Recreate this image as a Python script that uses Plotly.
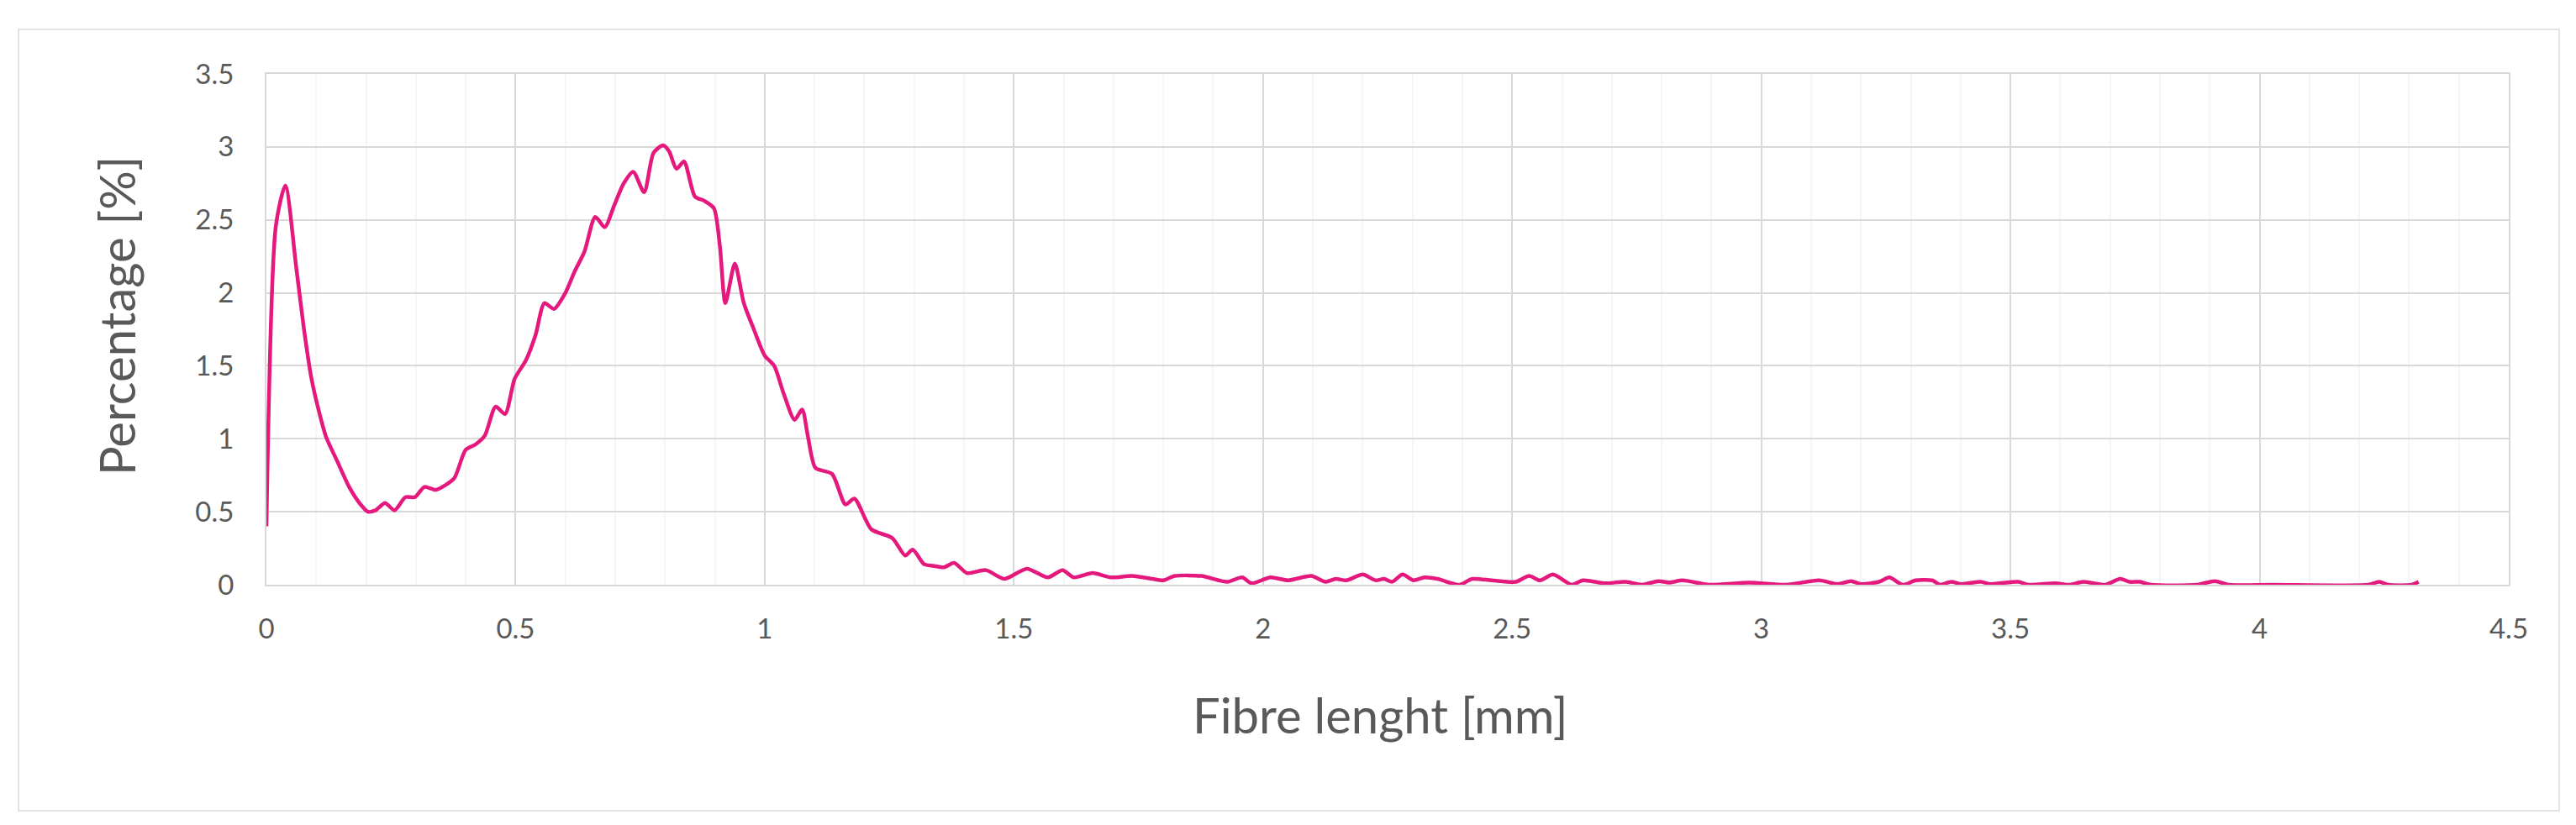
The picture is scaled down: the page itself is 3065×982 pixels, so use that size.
import plotly.graph_objects as go

fibre_length_mm = [
    0, 0.019, 0.038, 0.06, 0.075, 0.09, 0.106, 0.12, 0.143, 0.166, 0.189, 0.204, 0.219, 0.238,
    0.257, 0.279, 0.298, 0.317, 0.34, 0.358, 0.377, 0.4, 0.419, 0.438, 0.46, 0.479, 0.498,
    0.521, 0.54, 0.558, 0.577, 0.6, 0.619, 0.638, 0.66, 0.679, 0.698, 0.717, 0.736, 0.758,
    0.777, 0.796, 0.808, 0.823, 0.838, 0.86, 0.879, 0.898, 0.91, 0.921, 0.94, 0.958, 0.977,
    1.0, 1.019, 1.038, 1.06, 1.075, 1.087, 1.102, 1.135, 1.162, 1.18, 1.214, 1.256, 1.282,
    1.297, 1.32, 1.338, 1.36, 1.38, 1.406, 1.444, 1.481, 1.526, 1.568, 1.598, 1.62, 1.658,
    1.695, 1.737, 1.778, 1.8, 1.823, 1.876, 1.928, 1.958, 1.977, 2.015, 2.05, 2.097, 2.125,
    2.146, 2.167, 2.2, 2.226, 2.243, 2.259, 2.28, 2.302, 2.324, 2.35, 2.394, 2.42, 2.459,
    2.507, 2.534, 2.556, 2.582, 2.62, 2.642, 2.685, 2.728, 2.76, 2.793, 2.815, 2.842, 2.895,
    2.976, 3.05, 3.116, 3.153, 3.18, 3.2, 3.236, 3.257, 3.284, 3.31, 3.343, 3.359, 3.381,
    3.402, 3.44, 3.46, 3.515, 3.537, 3.59, 3.617, 3.647, 3.69, 3.72, 3.739, 3.76, 3.782,
    3.875, 3.91, 3.939, 4.025, 4.218, 4.24, 4.258, 4.305, 4.319,
]
percentage = [
    0.40, 2.46, 2.735, 2.17, 1.76, 1.42, 1.18, 1.01, 0.84, 0.67, 0.55, 0.50, 0.51, 0.56,
    0.51, 0.60, 0.60, 0.67, 0.65, 0.68, 0.73, 0.925, 0.96, 1.02, 1.22, 1.17, 1.41,
    1.54, 1.71, 1.93, 1.89, 2.00, 2.15, 2.28, 2.52, 2.45, 2.60, 2.75, 2.83, 2.69,
    2.96, 3.01, 2.97, 2.85, 2.90, 2.66, 2.63, 2.58, 2.32, 1.93, 2.20, 1.93, 1.76,
    1.57, 1.50, 1.31, 1.13, 1.20, 1.01, 0.80, 0.76, 0.55, 0.59, 0.38, 0.32, 0.20,
    0.24, 0.14, 0.13, 0.12, 0.15, 0.08, 0.10, 0.04, 0.11, 0.05, 0.10, 0.05, 0.08,
    0.05, 0.06, 0.04, 0.03, 0.06, 0.06, 0.02, 0.05, 0.01, 0.05, 0.03, 0.06, 0.02,
    0.04, 0.03, 0.07, 0.03, 0.04, 0.02, 0.07, 0.03, 0.05, 0.04, 0.00, 0.04, 0.03,
    0.02, 0.06, 0.03, 0.07, 0.00, 0.03, 0.01, 0.02, 0.00, 0.025, 0.015, 0.03, 0.00,
    0.015, 0.00, 0.03, 0.005, 0.025, 0.005, 0.02, 0.05, 0.00, 0.03, 0.03, 0.00, 0.02,
    0.005, 0.02, 0.005, 0.02, 0.00, 0.01, 0.00, 0.02, 0.00, 0.04, 0.02, 0.02, 0.00,
    0.00, 0.025, 0.00, 0.00, 0.00, 0.02, 0.00, 0.00, 0.02,
]

x_title = "Fibre lenght [mm]"
y_title = "Percentage [%]"

W, H = 3065, 982
L, R, T, B = 309, 3065 - 2977, 80, 982 - 688
PW, PH = W - L - R, H - T - B

def px(xp):
    return (xp - L) / PW

def py(yp):
    return (H - B - yp) / PH

grey_text = "#595959"
grid = "#d9d9d9"

fig = go.Figure(
    go.Scatter(
        x=fibre_length_mm, y=percentage, mode="lines",
        line=dict(color="#e5197d", width=4.5, shape="spline", smoothing=0.7),
        showlegend=False, hoverinfo="x+y",
    )
)

fig.update_layout(
    width=W, height=H,
    margin=dict(l=L, r=R, t=T, b=B),
    paper_bgcolor="white", plot_bgcolor="white",
    font=dict(family="Lato", color=grey_text),
    xaxis=dict(
        range=[0, 4.5], dtick=0.5, tick0=0, showgrid=True, gridcolor=grid, gridwidth=2,
        minor=dict(dtick=0.1, showgrid=True, gridcolor="#f6f6f6", gridwidth=2),
        showline=True, linecolor=grid, linewidth=2, mirror=True, zeroline=False,
        tickfont=dict(family="Lato", size=33, color=grey_text),
        ticks="", ticklabelstandoff=22, fixedrange=True,
    ),
    yaxis=dict(
        range=[0, 3.5], dtick=0.5, tick0=0, showgrid=True, gridcolor=grid, gridwidth=2,
        showline=True, linecolor=grid, linewidth=2, mirror=True, zeroline=False,
        tickfont=dict(family="Lato", size=33, color=grey_text),
        ticks="", ticklabelstandoff=30, fixedrange=True,
    ),
    shapes=[
        dict(type="rect", xref="paper", yref="paper",
             x0=px(14), x1=px(3037), y0=py(957), y1=py(27),
             line=dict(color="#e3e3e3", width=2), fillcolor="rgba(0,0,0,0)", layer="below"),
    ],
    annotations=[
        dict(text=x_title, xref="paper", yref="paper", x=px(1634), y=py(842),
             xanchor="center", yanchor="middle", showarrow=False,
             font=dict(family="Lato", size=58, color=grey_text)),
        dict(text=y_title, xref="paper", yref="paper", x=px(130), y=py(368),
             xanchor="center", yanchor="middle", showarrow=False, textangle=-90,
             font=dict(family="Lato", size=58, color=grey_text)),
    ],
)

fig.write_html("out.html")
